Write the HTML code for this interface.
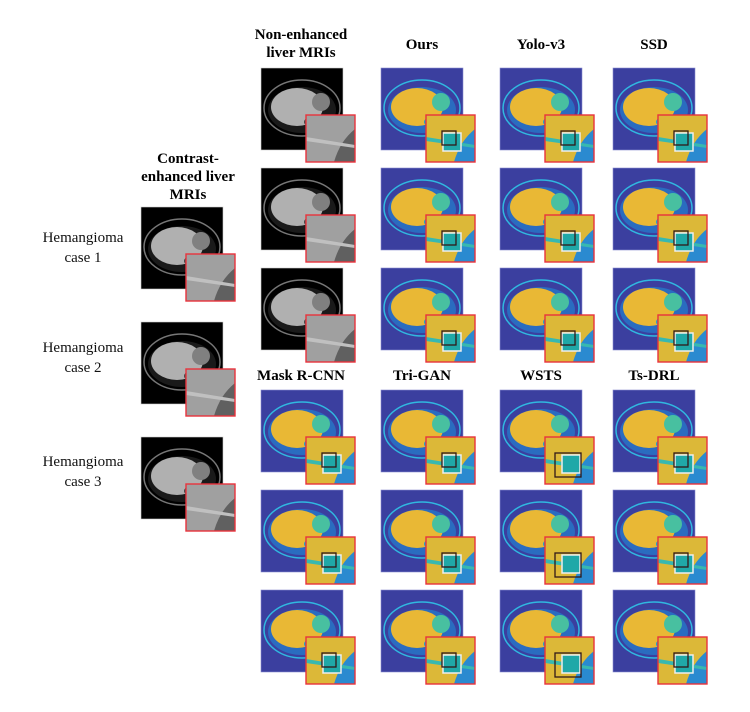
<!DOCTYPE html>
<html><head><meta charset="utf-8">
<style>
body{margin:0;background:#fff;}
#root{position:relative;width:750px;height:712px;overflow:hidden;font-family:"Liberation Serif",serif;}
.h{position:absolute;font-weight:bold;font-size:15px;text-align:center;color:#000;line-height:18px;}
.c{position:absolute;font-size:15px;text-align:center;color:#111;line-height:20px;width:110px;}
svg{position:absolute;left:0;top:0;}
</style></head>
<body>
<div id="root">
<div class="h" style="left:236px;top:26px;width:130px;">Non-enhanced<br>liver MRIs</div>
<div class="h" style="left:372px;top:36px;width:100px;">Ours</div>
<div class="h" style="left:491px;top:36px;width:100px;">Yolo-v3</div>
<div class="h" style="left:604px;top:36px;width:100px;">SSD</div>
<div class="h" style="left:236px;top:367px;width:130px;">Mask R-CNN</div>
<div class="h" style="left:372px;top:367px;width:100px;">Tri-GAN</div>
<div class="h" style="left:491px;top:367px;width:100px;">WSTS</div>
<div class="h" style="left:604px;top:367px;width:100px;">Ts-DRL</div>
<div class="h" style="left:123px;top:150px;width:130px;">Contrast-<br>enhanced liver<br>MRIs</div>
<div class="c" style="left:28px;top:228px;">Hemangioma<br>case 1</div>
<div class="c" style="left:28px;top:338px;">Hemangioma<br>case 2</div>
<div class="c" style="left:28px;top:452px;">Hemangioma<br>case 3</div>
<svg id="s" width="750" height="712"></svg>
</div>
<script>
const NS="http://www.w3.org/2000/svg";
const s=document.getElementById('s');
function el(t,a,p){const e=document.createElementNS(NS,t);for(const k in a)e.setAttribute(k,a[k]);(p||s).appendChild(e);return e;}
const W=82;
function tile(x,y,gray,name,box){
  const g=el('g',{});
  
  
  el('rect',{x:x,y:y,width:W,height:W,fill:gray?'#000':'#3b3f9f',stroke:gray?'#ccc':'#8a8ed0','stroke-width':0.6},g);
  const cx=x+41,cy=y+40;
  el('ellipse',{cx:cx,cy:cy,rx:38,ry:28,fill:'none',stroke:gray?'#777':'#30b8e0','stroke-width':1.5},g);
  el('ellipse',{cx:cx,cy:cy+2,rx:34,ry:23,fill:gray?'#1a1a1a':'#2a6cc0'},g);
  el('ellipse',{cx:cx-5,cy:cy-1,rx:26,ry:19,fill:gray?'#b0b0b0':'#e9b835'},g);
  el('ellipse',{cx:cx+19,cy:cy-6,rx:9,ry:9,fill:gray?'#808080':'#48c0a0'},g);
  el('ellipse',{cx:cx+10,cy:cy+14,rx:8,ry:5,fill:gray?'#444':'#1fa0d0'},g);
  const ix=x+45,iy=y+47,iw=49,ih=47;
  el('rect',{x:ix,y:iy,width:iw,height:ih,fill:gray?'#a0a0a0':'#dcb838'},g);
  el('path',{d:`M${ix+28} ${iy+ih} Q${ix+34} ${iy+26} ${ix+iw} ${iy+14} L${ix+iw} ${iy+ih} Z`,fill:gray?'#606060':'#2a8ad0'},g);
  el('path',{d:`M${ix} ${iy+22} L${ix+iw} ${iy+30} L${ix+iw} ${iy+33} L${ix} ${iy+26}Z`,fill:gray?'#c0c0c0':'#38b8b0'},g);
  if(!gray&&box){
    el('rect',{x:ix+17,y:iy+18,width:18,height:18,fill:'#20a8a8',stroke:'#eee','stroke-width':1.5},g);
    if(box>1) el('rect',{x:ix+13+(box===3?-3:3),y:iy+16,width:box===3?26:14,height:box===3?24:14,fill:'none',stroke:'#301818','stroke-width':1.3},g);
  }
  el('rect',{x:ix,y:iy,width:iw,height:ih,fill:'none',stroke:'#e8323c','stroke-width':1.4},g);
}
const cols=[261,381,500,613];
const rowsTop=[68,168,268], rowsBot=[390,490,590];
rowsTop.forEach((y,r)=>cols.forEach((x,c)=>tile(x,y,c===0,'tile-top-r'+(r+1)+'-c'+(c+1),c===0?0:2)));
rowsBot.forEach((y,r)=>cols.forEach((x,c)=>tile(x,y,false,'tile-bottom-r'+(r+1)+'-c'+(c+1),c===2?3:2)));
[207,322,437].forEach((y,r)=>tile(141,y,true,'contrast-tile-'+(r+1),0));
</script>
</body></html>
